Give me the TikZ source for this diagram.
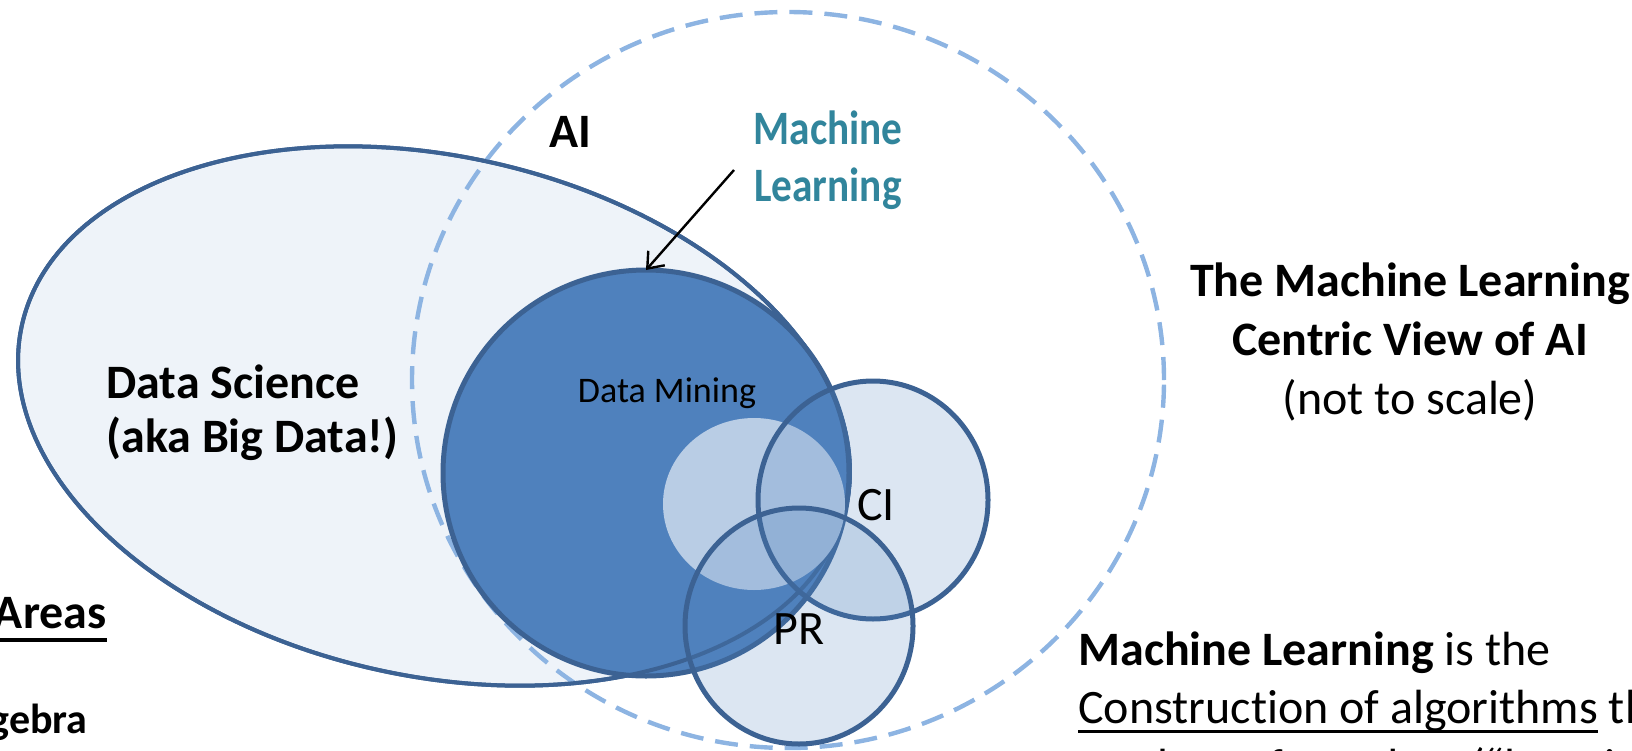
\documentclass[tikz,border=0pt]{standalone}
\usepackage{fontspec}
\setmainfont{Carlito}[Ligatures={NoCommon,NoDiscretionary,NoContextual}]
\usetikzlibrary{shapes.geometric,arrows.meta}
\definecolor{dsfill}{HTML}{EEF3F9}
\definecolor{edgeblue}{HTML}{3C6293}
\definecolor{mlfill}{HTML}{4F81BD}
\definecolor{innerfill}{HTML}{B9CDE5}
\definecolor{aiedge}{HTML}{8DB4E2}
\definecolor{tealtext}{HTML}{31859C}
\newsavebox\ulbox
\newcommand\myul[3]{\sbox\ulbox{#3}\rlap{\rule[#2]{\wd\ulbox}{#1}}\usebox\ulbox}
\begin{document}
\begin{tikzpicture}[x=0.5pt,y=-0.5pt,
  bigb/.style={font=\fontsize{24}{29.3}\selectfont\bfseries, inner sep=0pt},
  bigr/.style={font=\fontsize{24}{29.3}\selectfont, inner sep=0pt},
  shapebase/.style={inner sep=0pt, outer sep=0pt},
  dsshape/.style={shapebase, ellipse, minimum width=422pt, minimum height=260pt, rotate=-12.4},
  venn/.style={shapebase, ellipse, draw=edgeblue, line width=2.5pt, fill=mlfill, fill opacity=0.2},
]
\useasboundingbox (0,0) rectangle (1632,750);
\clip (0,0) rectangle (1632,750);
% Data Science ellipse
\node[dsshape, fill=dsfill, draw=edgeblue, line width=2pt] (ds) at (434,416) {};
% AI dashed circle
\node[shapebase, ellipse, draw=aiedge, line width=2.2pt, dash pattern=on 11.5pt off 6pt,
      minimum width=376pt, minimum height=368pt] (ai) at (788,380) {};
% Machine learning circle
\node[shapebase, circle, draw=edgeblue, line width=2.5pt, fill=mlfill, minimum size=203pt] (ml) at (646,473) {};
% Data science outline on top
\node[dsshape, draw=edgeblue, line width=2pt] (dsline) at (434,416) {};
% Data mining inner ellipse
\node[shapebase, ellipse, fill=innerfill, minimum width=91pt, minimum height=86pt] (dm) at (754,504) {};
% CI and PR
\node[venn, minimum width=115pt, minimum height=119pt] (ci) at (873,500) {};
\node[venn, minimum width=114pt, minimum height=118pt] (pr) at (799,626) {};

% labels
\node[bigb] (ailabel) at (570,132) {AI};
\node[bigb, text=tealtext, align=center, font=\fontsize{24}{28.5}\selectfont\bfseries] (mllabel) at (828,160)
  {\scalebox{0.86}[1]{Machine}\\\scalebox{0.86}[1]{Learning}};
\coordinate (arrowstart) at (734,170);
\draw[line width=1.2pt, -{Straight Barb[length=7pt,width=11pt]}] (arrowstart) -- (ml.north);

\node[bigb, align=left, anchor=west, font=\fontsize{24}{27}\selectfont\bfseries] (dslabel) at (106,413) {Data Science\\(aka Big Data!)};
\node[inner sep=0pt, font=\fontsize{18}{22}\selectfont] (dmlabel) at (667,393) {Data Mining};
\node[bigr] (cilabel) at (876,505) {CI};
\node[bigr] (prlabel) at (799,629) {PR};

\node[bigr, align=center] (title) at (1410,342) {\textbf{The Machine Learning}\\\textbf{Centric View of AI}\\(not to scale)};

\node[bigr, anchor=base west] (def1) at (1078,665) {\textbf{Machine Learning} is the};
\node[bigr, anchor=base west] (def2) at (1078,723) {\myul{1.5pt}{-5pt}{Construction of algorithms} that};
\node[bigr, anchor=base west] (def3) at (1078,782) {can learn from data (“learning”)};

\node[bigb, anchor=base east] (areas) at (107,628) {\myul{2pt}{-7pt}{Areas}};
\node[bigb, anchor=base east, font=\fontsize{21}{25}\selectfont\bfseries] (gebra) at (88,733) {gebra};
\end{tikzpicture}
\end{document}
